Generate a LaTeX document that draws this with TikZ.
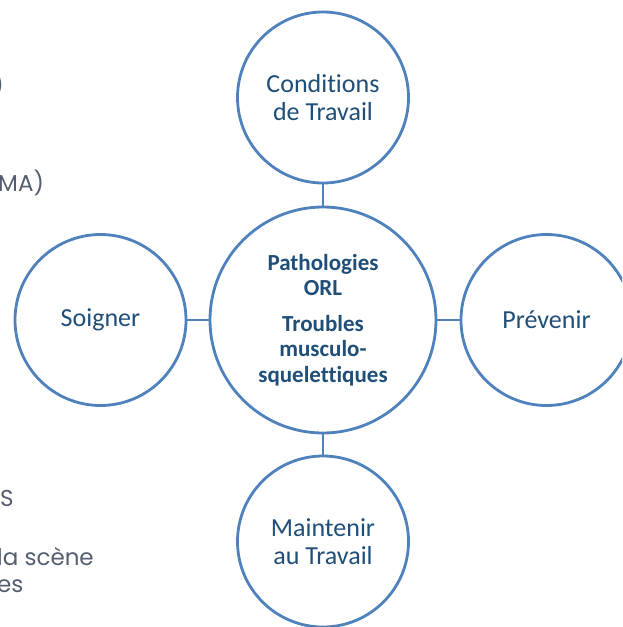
\documentclass[tikz,border=0pt]{standalone}
\usepackage{fontspec}
\setmainfont{Carlito}[Ligatures=NoCommon]
\newfontfamily\slidefont{Poppins}
\usetikzlibrary{positioning}
\definecolor{ringblue}{RGB}{79,129,189}
\definecolor{inkblue}{RGB}{31,78,121}
\definecolor{slidegray}{RGB}{84,94,112}
\tikzset{
  ring/.style={circle,draw=ringblue,line width=2.8pt,fill=white,minimum size=171pt,
    inner sep=0pt,outer sep=0pt,align=center,text=inkblue,font=\fontsize{26}{28.5}\selectfont},
  hub/.style={ring,minimum size=226pt,font=\bfseries\fontsize{23}{25.5}\selectfont},
  link/.style={draw=ringblue,line width=2.8pt},
  slidetext/.style={anchor=base west,text=slidegray,inner sep=0pt,font=\slidefont\fontsize{23}{27}\selectfont}
}
\begin{document}
\begin{tikzpicture}[x=1pt,y=-1pt]
    \useasboundingbox (0,0) rectangle (622,627);
    \clip (0,0) rectangle (622,627);
    \coordinate (origin) at (323,320);
    % left-hand slide text, cut by the frame
    \node[slidetext,anchor=base east] (bracket) at (4,93) {)};
    \node[slidetext] (ama) at (-2,191) {MA)};
    \node[slidetext] (ams) at (0,506) {S};
    \node[slidetext] (scene) at (-3,565) {la scène};
    \node[slidetext] (rles) at (-3,592) {es};
    % the five circles
    \node[hub] (core) at (origin) {Pathologies\\ORL\\[10pt]Troubles\\musculo-\\squelettiques};
    \node[ring,above=24pt of core] (work) {Conditions\\de Travail};
    \node[ring,left=24pt of core] (care) {Soigner};
    \node[ring,right=25pt of core] (prevent) {Prévenir};
    \node[ring,below=23pt of core] (keep) {Maintenir\\au Travail};
    \draw[link](core)--(work);
    \draw[link](core)--(care);
    \draw[link](core)--(prevent);
    \draw[link](core)--(keep);
  \end{tikzpicture}
\end{document}
